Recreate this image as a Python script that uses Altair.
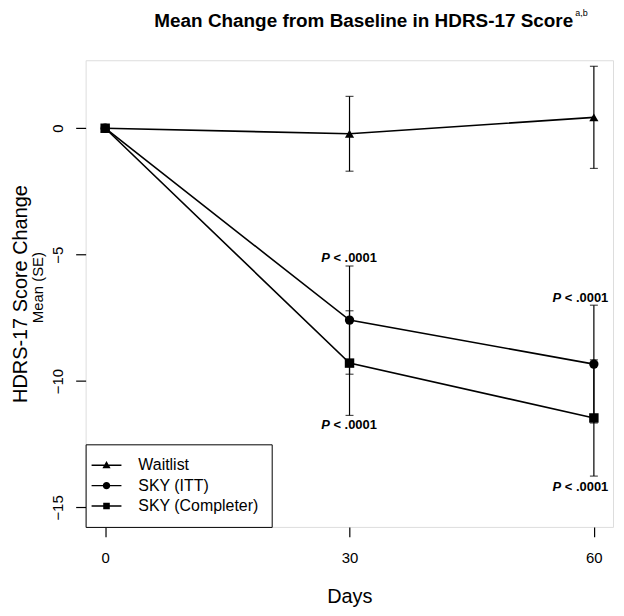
import altair as alt
import pandas as pd

FONT = "Liberation Sans"

# ---- data ----
days = [0, 30, 60]
series_names = ["Waitlist", "SKY (ITT)", "SKY (Completer)"]
waitlist_mean = [0, -0.22, 0.43]
waitlist_se = [0, 1.48, 2.02]
itt_mean = [0, -7.59, -9.33]
itt_se = [0, 2.14, 2.33]
completer_mean = [0, -9.29, -11.46]
completer_se = [0, 2.07, 2.30]
x_ticks = [0, 30, 60]
y_ticks = [0, -5, -10, -15]
title_text = "Mean Change from Baseline in HDRS-17 Score"
title_sup = "a,b"
p_rest = "< .0001"

means = [waitlist_mean, itt_mean, completer_mean]
ses = [waitlist_se, itt_se, completer_se]
rows = []
for name, m, s in zip(series_names, means, ses):
    for d, mi, si in zip(days, m, s):
        rows.append(dict(day=d, series=name, mean=mi, se=si, lo=mi - si, hi=mi + si))
df = pd.DataFrame(rows)
eb = df[df.se > 0]
# draw order of markers: circles on top
draw_rank = {"SKY (Completer)": 0, "Waitlist": 1, "SKY (ITT)": 2}
df_pts = df.assign(rank=df.series.map(draw_rank)).sort_values("rank")

W, H = 530, 469
x_scale = alt.Scale(domain=[-2.4, 62.35], nice=False, zero=False)
y_scale = alt.Scale(domain=[-15.77, 2.69], nice=False, zero=False)

x_axis = alt.Axis(values=x_ticks, format="d", title="Days", domain=False, grid=False,
                  tickSize=10, tickColor="black", tickWidth=1.2,
                  labelFont=FONT, labelFontSize=15, labelPadding=14, labelColor="black",
                  titleFont=FONT, titleFontSize=20, titleFontWeight="normal", titleColor="black",
                  titleBaseline="alphabetic", titleAlign="center", titleX=W / 2, titleY=76)
y_axis = alt.Axis(values=y_ticks, title="HDRS-17 Score Change", domain=False, grid=False,
                  tickSize=10, tickColor="black", tickWidth=1.2,
                  labelAngle=270, labelAlign="center", labelBaseline="alphabetic",
                  labelFont=FONT, labelFontSize=15, labelPadding=13, labelColor="black",
                  titleFont=FONT, titleFontSize=20, titleFontWeight="normal", titleColor="black",
                  titleAngle=270, titleAlign="center", titleBaseline="alphabetic",
                  titleX=-59, titleY=H / 2)

X = alt.X("day:Q", scale=x_scale, axis=x_axis)


def Y(field):
    return alt.Y(f"{field}:Q", scale=y_scale, axis=y_axis)


lines = alt.Chart(df).mark_line(color="black", strokeWidth=1.6).encode(
    x=X, y=Y("mean"), detail="series:N")

rules = alt.Chart(eb).mark_rule(color="black", strokeWidth=1.2).encode(
    x=X, y=Y("lo"), y2="hi:Q")
caps_lo = alt.Chart(eb).mark_tick(color="black", orient="horizontal", size=8, thickness=1.2).encode(
    x=X, y=Y("lo"))
caps_hi = alt.Chart(eb).mark_tick(color="black", orient="horizontal", size=8, thickness=1.2).encode(
    x=X, y=Y("hi"))

points = alt.Chart(df_pts).mark_point(filled=True, color="black", opacity=1).encode(
    x=X, y=Y("mean"),
    shape=alt.Shape("series:N", scale=alt.Scale(domain=series_names,
                                                 range=["triangle-up", "circle", "square"]),
                    legend=None),
    size=alt.Size("series:N", scale=alt.Scale(domain=series_names, range=[85, 90, 64]),
                  legend=None),
)

# legend symbols: a short line (thin filled bar) through the marker
legend_paths = [
    "M-2,-0.09H2V0.09H-2ZM0,-0.55L0.55,0.42L-0.55,0.42Z",
    "M-2,-0.09H2V0.09H-2ZM-0.5,0A0.5,0.5,0,1,1,0.5,0A0.5,0.5,0,1,1,-0.5,0Z",
    "M-2,-0.09H2V0.09H-2ZM-0.44,-0.44H0.44V0.44H-0.44Z",
]
legend_layer = alt.Chart(df).transform_filter("false").mark_point(
    filled=True, color="black", opacity=1
).encode(
    x=X, y=Y("mean"),
    shape=alt.Shape("series:N", scale=alt.Scale(domain=series_names, range=legend_paths),
                    legend=alt.Legend(title=None, orient="bottom-left", offset=0, padding=12.5,
                                      fillColor="white", strokeColor="black",
                                      labelFont=FONT, labelFontSize=16, labelColor="black",
                                      symbolSize=225, symbolFillColor="black",
                                      rowPadding=3.5, labelOffset=23.5)),
)


def p_label(day, series, field, dy, shift):
    src = eb[(eb.day == day) & (eb.series == series)]
    p = alt.Chart(src).mark_text(text="P", font=FONT, fontSize=13, fontWeight="bold",
                                 fontStyle="italic", align="right", baseline="alphabetic",
                                 dx=shift - 19.8, dy=dy, color="black").encode(x=X, y=Y(field))
    rest = alt.Chart(src).mark_text(text=p_rest, font=FONT, fontSize=13, fontWeight="bold",
                                    align="left", baseline="alphabetic",
                                    dx=shift - 16.2, dy=dy, color="black").encode(x=X, y=Y(field))
    return p + rest


pl = (p_label(30, "SKY (ITT)", "hi", -4, 0) + p_label(30, "SKY (Completer)", "lo", 14, 0)
      + p_label(60, "SKY (ITT)", "hi", -3, -13) + p_label(60, "SKY (Completer)", "lo", 15, -13))

one = pd.DataFrame({"t": [title_text], "s": [title_sup], "m": ["Mean (SE)"]})
title = alt.Chart(one).mark_text(font=FONT, fontSize=19, fontWeight="bold", align="right",
                                 baseline="alphabetic", color="black").encode(
    text="t:N", x=alt.value(490), y=alt.value(-33))
sup = alt.Chart(one).mark_text(font=FONT, fontSize=9, align="left",
                               baseline="alphabetic", color="black").encode(
    text="s:N", x=alt.value(492), y=alt.value(-44))
subtitle = alt.Chart(one).mark_text(font=FONT, fontSize=15, angle=270, align="center",
                                    baseline="alphabetic", color="black").encode(
    text="m:N", x=alt.value(-43), y=alt.value(H / 2 - 6))

chart = alt.layer(lines, rules, caps_lo, caps_hi, points, legend_layer, pl, title, sup, subtitle).resolve_scale(
    shape="independent", size="independent"
).properties(
    width=W, height=H,
    autosize=alt.AutoSizeParams(type="none"),
    padding={"left": 78, "top": 51, "right": 3, "bottom": 80},
).configure_view(stroke="black", strokeWidth=1.5).configure(background="white")

chart.save("out.html", embed_options={"renderer": "svg", "actions": False})
